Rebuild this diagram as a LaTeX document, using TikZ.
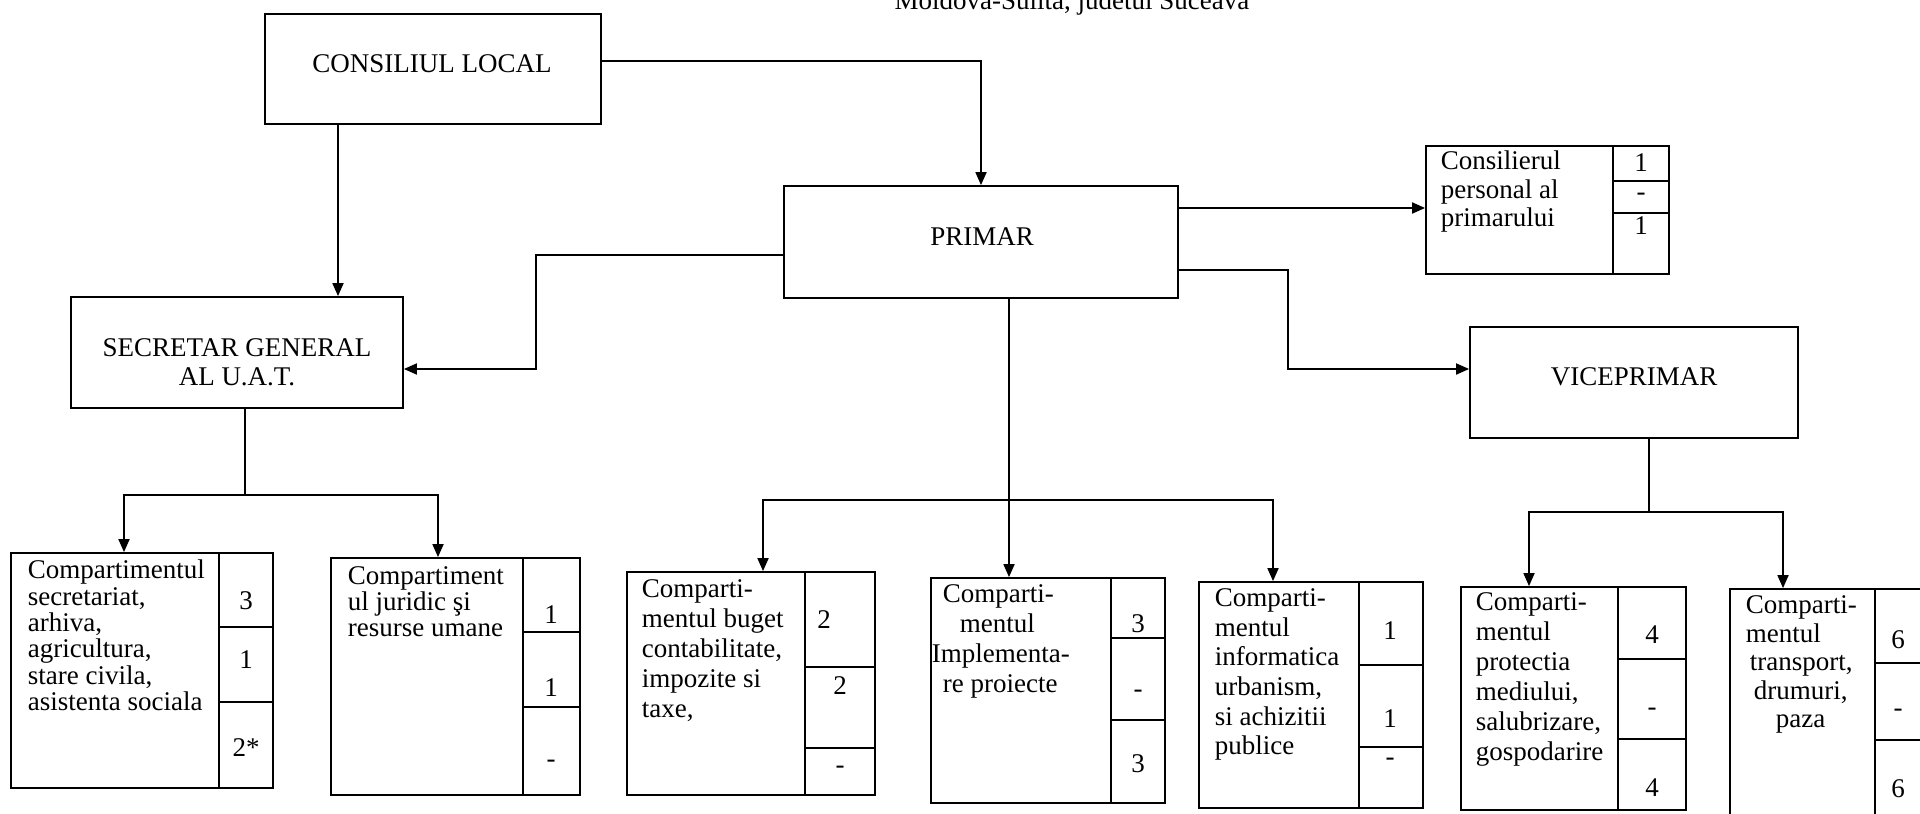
\documentclass[tikz,border=0pt]{standalone}
\usepackage{fontspec}
\setmainfont{Liberation Serif}
\usetikzlibrary{arrows.meta,fit}
\begin{document}
\begin{tikzpicture}[x=0.5pt,y=-0.5pt, line width=0.9pt,
  box/.style={draw, line width=0.9pt, inner sep=0pt},
  lbl/.style={inner sep=0pt, font=\fontsize{13.5}{16}\selectfont},
  txt/.style={inner sep=0pt, anchor=north west, align=left},
  num/.style={inner sep=0pt, font=\fontsize{13.5}{16}\selectfont},
  arr/.style={-{Triangle[length=6.5pt,width=5.5pt]}},
  dv/.style={line width=0.9pt}]
\useasboundingbox (0,0) rectangle (1920,813);
\clip (0,0) rectangle (1920,813);

% heading (cut off at top)
\node[lbl, anchor=base] (head) at (1072,10) {Moldova-Sulita, judetul Suceava};

% main boxes
\node[box, fit={(265,14) (601,124)}] (cl) {};
\node[lbl] (clt) at (432,64) {CONSILIUL LOCAL};

\node[box, fit={(784,186) (1178,298)}] (primar) {};
\node[lbl] (primart) at (982,237) {PRIMAR};

\node[box, fit={(71,297) (403,408)}] (sec) {};
\node[lbl, align=center, font=\fontsize{13.5}{14.5}\selectfont] (sect) at (237,362) {SECRETAR GENERAL\\AL U.A.T.};

\node[box, fit={(1470,327) (1798,438)}] (vice) {};
\node[lbl] (vicet) at (1634,377) {VICEPRIMAR};

% consilier
\node[box, fit={(1426,146) (1669,274)}] (cons) {};
\draw[dv] (cons.north -| 1613,0) -- (cons.south -| 1613,0);
\draw[dv] (1613,181) -- (cons.east |- 0,181);
\draw[dv] (1613,213) -- (cons.east |- 0,213);
\node[txt, font=\fontsize{13.5}{14.25}\selectfont] (const) at (1440,150) {Consilierul\\personal al\\primarului};
\node[num] (cons1) at (1641,163) {1};
\node[num] (cons2) at (1641,197) {-};
\node[num] (cons3) at (1641,226) {1};

% box 1
\node[box, fit={(11,553) (273,788)}] (b1) {};
\draw[dv] (b1.north -| 219,0) -- (b1.south -| 219,0);
\draw[dv] (219,627) -- (b1.east |- 0,627);
\draw[dv] (219,702) -- (b1.east |- 0,702);
\node[txt, font=\fontsize{13.5}{13.2}\selectfont] (b1t) at (27,559) {Compartimentul\\secretariat,\\arhiva,\\agricultura,\\stare civila,\\asistenta sociala};
\node[num] (b1n1) at (246,601) {3};
\node[num] (b1n2) at (246,660) {1};
\node[num] (b1n3) at (246,748) {2*};

% box 2
\node[box, fit={(331,558) (580,795)}] (b2) {};
\draw[dv] (b2.north -| 523,0) -- (b2.south -| 523,0);
\draw[dv] (523,632) -- (b2.east |- 0,632);
\draw[dv] (523,707) -- (b2.east |- 0,707);
\node[txt, font=\fontsize{13.5}{13}\selectfont] (b2t) at (347,566) {Compartiment\\ul juridic şi\\resurse umane};
\node[num] (b2n1) at (551,615) {1};
\node[num] (b2n2) at (551,688) {1};
\node[num] (b2n3) at (551,764) {-};

% box 3
\node[box, fit={(627,572) (875,795)}] (b3) {};
\draw[dv] (b3.north -| 805,0) -- (b3.south -| 805,0);
\draw[dv] (805,667) -- (b3.east |- 0,667);
\draw[dv] (805,748) -- (b3.east |- 0,748);
\node[txt, font=\fontsize{13.5}{15}\selectfont] (b3t) at (641,579) {Comparti-\\mentul buget\\contabilitate,\\impozite si\\taxe,};
\node[num] (b3n1) at (824,620) {2};
\node[num] (b3n2) at (840,686) {2};
\node[num] (b3n3) at (840,770) {-};

% box 4
\node[box, fit={(931,578) (1165,803)}] (b4) {};
\draw[dv] (b4.north -| 1111,0) -- (b4.south -| 1111,0);
\draw[dv] (1111,638) -- (b4.east |- 0,638);
\draw[dv] (1111,720) -- (b4.east |- 0,720);
\node[txt, font=\fontsize{13.5}{15}\selectfont] (b4t) at (931,584) {\hspace*{5.5pt}Comparti-\\\hspace*{14pt}mentul\\Implementa-\\\hspace*{5.5pt}re proiecte};
\node[num] (b4n1) at (1138,624) {3};
\node[num] (b4n2) at (1138,694) {-};
\node[num] (b4n3) at (1138,764) {3};

% box 5
\node[box, fit={(1199,582) (1423,808)}] (b5) {};
\draw[dv] (b5.north -| 1359,0) -- (b5.south -| 1359,0);
\draw[dv] (1359,665) -- (b5.east |- 0,665);
\draw[dv] (1359,747) -- (b5.east |- 0,747);
\node[txt, font=\fontsize{13.5}{14.8}\selectfont] (b5t) at (1214,588) {Comparti-\\mentul\\informatica\\urbanism,\\si achizitii\\publice};
\node[num] (b5n1) at (1390,631) {1};
\node[num] (b5n2) at (1390,719) {1};
\node[num] (b5n3) at (1390,762) {-};

% box 6
\node[box, fit={(1461,587) (1686,810)}] (b6) {};
\draw[dv] (b6.north -| 1618,0) -- (b6.south -| 1618,0);
\draw[dv] (1618,659) -- (b6.east |- 0,659);
\draw[dv] (1618,739) -- (b6.east |- 0,739);
\node[txt, font=\fontsize{13.5}{15}\selectfont] (b6t) at (1475,592) {Comparti-\\mentul\\protectia\\mediului,\\salubrizare,\\gospodarire};
\node[num] (b6n1) at (1652,635) {4};
\node[num] (b6n2) at (1652,712) {-};
\node[num] (b6n3) at (1652,788) {4};

% box 7 (cut off at right/bottom)
\node[box, fit={(1730,589) (1945,835)}] (b7) {};
\draw[dv] (b7.north -| 1875,0) -- (b7.south -| 1875,0);
\draw[dv] (1875,663) -- (b7.east |- 0,663);
\draw[dv] (1875,740) -- (b7.east |- 0,740);
\node[txt, font=\fontsize{13.5}{14.25}\selectfont] (b7t) at (1745,595) {Comparti-\\mentul\\\hspace*{2pt}transport,\\\hspace*{4pt}drumuri,\\\hspace*{15pt}paza};
\node[num] (b7n1) at (1898,640) {6};
\node[num] (b7n2) at (1898,713) {-};
\node[num] (b7n3) at (1898,789) {6};

% junctions
\coordinate (j1) at (245,495);
\coordinate (j2) at (1009,500);
\coordinate (j3) at (1649,512);

% connectors
\draw[arr] (cl.east |- 0,61) -| (primar.north);
\draw[arr] (cl.south -| 338,0) -- (sec.north -| 338,0);
\draw[arr] (primar.west |- 0,255) -| (536,369) -- (sec.east |- 0,369);
\draw[arr] (primar.east |- 0,208) -- (cons.west |- 0,208);
\draw[arr] (primar.east |- 0,270) -| (1288,369) -- (vice.west |- 0,369);

\draw (sec.south -| j1) -- (j1);
\draw[arr] (j1) -| (b1.north -| 124,0);
\draw[arr] (j1) -| (b2.north -| 438,0);

\draw[arr] (primar.south -| j2) -- (b4.north -| j2);
\draw[arr] (j2) -| (b3.north -| 763,0);
\draw[arr] (j2) -| (b5.north -| 1273,0);

\draw (vice.south -| j3) -- (j3);
\draw[arr] (j3) -| (b6.north -| 1529,0);
\draw[arr] (j3) -| (b7.north -| 1783,0);
\end{tikzpicture}
\end{document}
